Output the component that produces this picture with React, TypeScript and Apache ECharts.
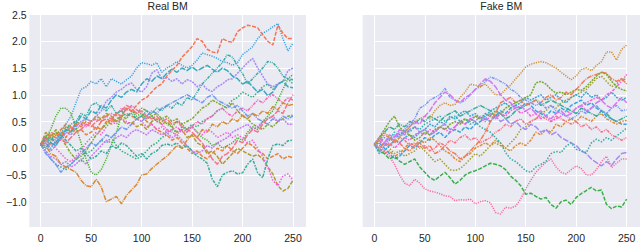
import React, { useEffect, useRef } from "react";
import * as echarts from "echarts";

const steps = [0,5,10,15,20,25,30,35,40,45,50,55,60,65,70,75,80,85,90,95,100,105,110,115,120,125,130,135,140,145,150,155,160,165,170,175,180,185,190,195,200,205,210,215,220,225,230,235,240,245,250];
const xTicks = [0, 50, 100, 150, 200, 250];
const yTicks = [-1.5, -1.0, -0.5, 0.0, 0.5, 1.0, 1.5, 2.0, 2.5];
const titles = ["Real BM", "Fake BM"];

// ---- Real BM paths (sampled every 5 steps) ----
const realOrangeRed = [0.07,0.15,0.25,0.2,0.3,0.2,0.35,0.45,0.4,0.5,
0.45,0.35,0.5,0.55,0.5,0.65,0.6,0.75,0.7,0.8,
0.9,0.95,1.05,1.15,1.2,1.35,1.45,1.55,1.7,1.8,
1.9,2.05,2.0,1.85,1.8,1.78,2.05,2.0,1.98,2.18,
2.25,2.3,2.28,2.25,2.12,2.0,1.93,2.3,2.15,2.05,
2.05];
const realBlue = [0.07,0.1,0.0,0.15,0.3,0.45,0.6,0.85,1.1,1.15,
1.25,1.2,1.3,1.15,1.3,1.25,1.2,1.28,1.35,1.5,
1.6,1.58,1.55,1.6,1.42,1.5,1.55,1.62,1.55,1.5,
1.55,1.65,1.78,1.75,1.72,1.68,1.62,1.6,1.55,1.6,
1.75,1.82,1.9,2.05,2.15,2.2,2.27,2.33,2.05,1.82,
1.97];
const realCyan = [0.07,0.2,0.1,0.05,0.2,0.35,0.3,0.45,0.6,0.55,
0.7,0.65,0.8,0.75,0.9,1.0,0.95,1.05,1.1,1.05,
1.2,1.3,1.25,1.35,1.3,1.4,1.48,1.42,1.5,1.45,
1.52,1.45,1.5,1.55,1.48,1.42,1.5,1.45,1.35,1.3,
1.2,1.25,1.15,1.05,1.1,0.98,1.05,1.2,1.25,1.15,
1.13];
const realTeal = [0.07,0.0,0.15,0.25,0.2,0.35,0.45,0.5,0.65,0.6,
0.8,0.85,0.75,0.7,0.8,0.65,0.7,0.6,0.65,0.55,
0.6,0.7,0.65,0.75,0.7,0.8,0.75,0.85,0.8,0.95,
0.9,1.05,1.2,1.3,1.4,1.5,1.6,1.75,1.7,1.55,
1.4,1.2,1.3,1.4,1.5,1.62,1.6,1.5,1.35,1.3,
1.28];
const realLavender = [0.07,0.1,-0.05,0.05,0.2,0.3,0.25,0.4,0.5,0.55,
0.5,0.6,0.7,0.88,0.95,1.05,1.1,1.18,1.22,1.1,
1.05,1.15,1.4,1.47,1.3,1.32,1.25,1.3,1.2,1.28,
1.25,1.15,1.2,1.1,1.06,1.15,1.2,1.28,1.3,1.4,
1.5,1.6,1.68,1.5,1.35,1.2,1.15,1.2,1.25,1.45,
1.5];
const realOrange = [0.07,0.05,-0.1,-0.15,-0.3,-0.35,-0.4,-0.45,-0.6,-0.7,
-0.72,-0.58,-0.72,-1.0,-0.95,-0.9,-1.04,-0.88,-0.78,-0.68,
-0.5,-0.48,-0.38,-0.3,-0.22,-0.15,-0.05,0.05,0.0,0.15,
0.25,0.2,0.35,0.3,0.45,0.4,0.5,0.45,0.55,0.5,
0.62,0.55,0.65,0.6,0.7,0.65,0.78,0.72,0.85,0.8,
0.82];
const realTealLow = [0.07,0.15,0.2,0.1,0.25,0.15,0.05,-0.05,0.0,-0.1,
-0.2,-0.15,-0.05,-0.1,0.05,0.0,0.1,0.05,-0.05,-0.15,
-0.1,-0.2,-0.1,-0.05,0.05,0.08,0.05,0.1,0.0,0.05,
-0.05,-0.15,-0.2,-0.28,-0.58,-0.72,-0.5,-0.45,-0.42,-0.48,
-0.46,-0.3,-0.2,-0.46,-0.55,-0.2,0.05,0.08,0.05,0.14,
0.15];
const realMagenta = [0.07,0.2,0.1,0.0,-0.1,-0.2,-0.25,-0.15,-0.05,0.1,
0.2,0.3,0.25,0.4,0.5,0.45,0.55,0.5,0.45,0.55,
0.5,0.4,0.45,0.35,0.4,0.3,0.35,0.4,0.3,0.35,
0.4,0.3,0.25,0.35,0.3,0.2,0.25,0.3,0.2,0.25,
0.2,0.1,0.15,0.0,-0.15,-0.35,-0.6,-0.7,-0.52,-0.48,
-0.6];
const realOlive = [0.07,0.3,0.2,0.35,0.25,0.4,0.3,0.5,0.45,0.55,
0.5,0.6,0.55,0.65,0.6,0.5,0.55,0.45,0.5,0.4,
0.45,0.35,0.5,0.55,0.45,0.5,0.4,0.3,0.35,0.2,
0.25,0.1,0.05,-0.1,-0.05,-0.15,-0.3,-0.2,-0.1,0.0,
-0.05,-0.1,-0.15,-0.12,-0.2,-0.35,-0.48,-0.7,-0.8,-0.75,
-0.6];
const realGreen = [0.07,0.2,0.35,0.6,0.75,0.75,0.65,0.4,0.1,-0.2,
-0.45,-0.5,-0.4,-0.2,0.05,0.3,0.6,0.75,0.7,0.6,
0.65,0.55,0.6,0.5,0.55,0.45,0.4,0.5,0.45,0.35,
0.4,0.3,0.2,0.15,0.05,0.1,0.0,0.05,0.1,0.2,
0.15,0.3,0.4,0.35,0.5,0.6,0.7,0.9,1.1,1.3,
1.38];
const realPink = [0.07,0.15,0.05,0.1,0.2,0.1,0.2,0.3,0.35,0.45,
0.4,0.5,0.55,0.6,0.55,0.65,0.7,0.8,0.75,0.65,
0.7,0.6,0.55,0.6,0.5,0.55,0.45,0.5,0.4,0.35,
0.3,0.2,0.1,-0.05,-0.2,-0.3,-0.15,-0.1,0.0,0.15,
0.1,0.25,0.35,0.3,0.45,0.55,0.6,0.7,0.65,0.85,
1.0];
const realHotPink = [0.07,0.0,0.1,0.2,0.15,0.3,0.4,0.35,0.45,0.4,
0.5,0.55,0.5,0.6,0.65,0.6,0.75,0.7,0.8,0.72,
0.65,0.55,0.6,0.5,0.45,0.35,0.3,0.25,0.35,0.3,
0.4,0.5,0.45,0.55,0.6,0.7,0.75,0.65,0.6,0.7,
0.75,0.7,0.8,0.9,0.85,0.95,1.0,0.92,0.85,0.95,
0.9];
const realViolet = [0.07,-0.05,-0.15,-0.2,-0.3,-0.25,-0.35,-0.3,-0.2,-0.3,
-0.15,-0.05,0.05,0.15,0.1,0.2,0.25,0.2,0.3,0.35,
0.3,0.25,0.35,0.3,0.25,0.3,0.2,0.25,0.15,0.05,
-0.05,-0.1,-0.05,0.05,0.0,0.1,0.15,0.2,0.3,0.35,
0.4,0.45,0.35,0.4,0.5,0.55,0.6,0.5,0.55,0.45,
0.45];
const realCornflower = [0.07,-0.1,-0.2,-0.3,-0.45,-0.35,-0.3,-0.2,-0.1,0.0,
0.1,0.05,0.15,0.25,0.2,0.3,0.4,0.35,0.45,0.55,
0.5,0.6,0.7,0.65,0.75,0.8,0.85,0.9,0.95,1.0,
0.95,0.9,0.85,0.95,1.0,0.9,0.85,0.8,0.75,0.8,
0.7,0.6,0.65,0.55,0.5,0.45,0.55,0.5,0.6,0.55,
0.6];
const realLime = [0.07,0.25,0.15,0.3,0.2,0.05,-0.1,-0.2,-0.15,-0.05,
0.1,0.25,0.35,0.45,0.55,0.5,0.6,0.55,0.7,0.65,
0.75,0.7,0.6,0.65,0.55,0.6,0.5,0.55,0.45,0.5,
0.55,0.65,0.75,0.8,0.9,0.85,0.8,0.75,0.85,0.7,
0.6,0.55,0.45,0.4,0.35,0.45,0.4,0.5,0.55,0.6,
0.62];
const realSeaGreen = [0.07,-0.05,-0.2,-0.3,-0.35,-0.4,-0.3,-0.2,-0.25,-0.1,
-0.05,0.05,0.15,0.1,0.2,0.05,-0.05,-0.1,-0.15,-0.2,
-0.15,-0.05,0.05,0.1,0.2,0.25,0.35,0.3,0.4,0.35,
0.45,0.4,0.5,0.55,0.6,0.7,0.75,0.8,0.9,0.95,
1.05,1.0,0.95,1.05,1.15,1.2,1.1,1.2,1.25,1.3,
1.2];
const realAmber = [0.07,0.2,0.3,0.25,0.35,0.45,0.4,0.3,0.35,0.25,
0.3,0.4,0.35,0.5,0.45,0.55,0.6,0.65,0.6,0.55,
0.6,0.5,0.45,0.35,0.3,0.25,0.15,0.2,0.1,0.0,
-0.1,-0.05,-0.15,-0.2,-0.1,0.0,-0.05,0.05,-0.05,-0.1,
0.0,0.1,0.05,-0.05,-0.1,-0.2,-0.15,-0.1,-0.2,-0.15,
-0.18];

// ---- Fake BM paths (sampled every 5 steps) ----
const fakeBrown = [0.07,0.15,0.3,0.2,0.1,0.2,0.3,0.4,0.5,0.55,
0.6,0.55,0.7,0.8,0.85,0.8,0.82,0.95,1.05,1.2,
1.18,1.15,1.2,1.1,1.0,1.0,1.1,1.18,1.3,1.4,
1.52,1.57,1.6,1.62,1.6,1.55,1.5,1.42,1.35,1.28,
1.35,1.47,1.5,1.45,1.55,1.62,1.8,1.8,1.65,1.85,
1.93];
const fakeViolet = [0.07,0.2,0.1,0.25,0.2,0.35,0.3,0.4,0.5,0.45,
0.6,0.7,0.85,0.95,1.05,1.0,0.9,0.85,0.95,1.0,
1.1,1.2,1.3,1.25,1.15,1.0,0.9,0.85,0.75,0.8,
0.7,0.75,0.65,0.7,0.6,0.55,0.65,0.7,0.6,0.65,
0.75,0.8,0.7,0.75,0.85,0.9,0.8,0.75,0.85,0.95,
0.85];
const fakeCornflower = [0.07,-0.05,0.05,0.15,0.25,0.2,0.35,0.45,0.55,0.75,
0.8,0.9,0.95,1.0,1.12,0.95,0.9,0.85,0.9,1.0,
1.1,1.15,1.25,1.33,1.3,1.25,1.2,1.1,1.05,0.95,
0.9,0.85,0.8,0.85,0.75,0.8,0.7,0.65,0.6,0.55,
0.6,0.7,0.65,0.75,0.8,0.7,0.65,0.75,0.8,0.7,
0.72];
const fakeLime = [0.07,0.2,0.35,0.5,0.6,0.4,0.3,0.25,0.15,0.2,
0.3,0.25,0.35,0.4,0.35,0.45,0.5,0.45,0.55,0.5,
0.6,0.55,0.65,0.6,0.7,0.65,0.75,0.8,0.85,0.9,
0.95,1.0,1.22,1.25,1.2,1.1,1.03,1.05,1.0,1.05,
1.1,1.08,1.15,1.25,1.35,1.42,1.38,1.25,1.15,1.1,
1.07];
const fakeOrangeRed = [0.07,0.0,0.1,0.05,0.15,0.1,0.0,-0.05,0.05,0.1,
0.0,0.05,-0.1,-0.05,0.05,-0.05,-0.1,-0.2,-0.15,-0.05,
0.05,0.15,0.3,0.5,0.65,0.85,0.9,0.95,0.85,0.9,
0.8,0.85,0.9,0.85,0.95,1.0,0.9,0.95,1.05,1.0,
1.1,1.2,1.3,1.35,1.38,1.42,1.4,1.3,1.25,1.3,
1.2];
const fakeMagenta = [0.07,0.15,0.05,0.1,0.0,0.1,0.2,0.15,0.25,0.3,
0.25,0.35,0.3,0.4,0.35,0.3,0.4,0.5,0.45,0.55,
0.6,0.55,0.5,0.6,0.55,0.65,0.6,0.7,0.75,0.65,
0.7,0.6,0.65,0.55,0.6,0.5,0.55,0.6,0.7,0.65,
0.75,0.8,0.85,0.9,0.95,0.9,1.0,1.05,1.15,1.25,
1.38];
const fakeTeal = [0.07,0.1,0.2,0.15,0.3,0.25,0.35,0.3,0.4,0.35,
0.45,0.5,0.55,0.6,0.5,0.55,0.6,0.5,0.55,0.45,
0.5,0.4,0.35,0.3,0.2,0.1,-0.08,-0.2,-0.25,-0.33,
-0.42,-0.45,-0.35,-0.3,-0.24,-0.1,-0.06,-0.08,0.04,0.1,
-0.02,-0.05,-0.08,0.1,0.17,0.12,0.2,0.15,0.23,0.3,
0.38];
const fakeGreen = [0.07,-0.05,-0.1,-0.2,-0.15,-0.24,-0.3,-0.25,-0.2,-0.35,
-0.45,-0.55,-0.6,-0.52,-0.45,-0.55,-0.67,-0.6,-0.5,-0.45,
-0.42,-0.38,-0.33,-0.28,-0.3,-0.33,-0.4,-0.52,-0.6,-0.7,
-0.86,-0.84,-0.9,-0.95,-0.92,-1.05,-1.12,-1.0,-0.97,-1.05,
-0.92,-0.85,-0.79,-0.73,-0.8,-0.78,-1.05,-1.13,-1.08,-1.1,
-0.95];
const fakePink = [0.07,0.05,-0.05,-0.15,-0.3,-0.5,-0.65,-0.7,-0.58,-0.65,
-0.76,-0.8,-0.82,-0.85,-0.89,-0.9,-0.98,-0.96,-0.97,-0.95,
-1.04,-1.0,-0.98,-1.02,-1.2,-1.23,-1.1,-1.12,-1.08,-0.95,
-0.76,-0.6,-0.45,-0.35,-0.26,-0.2,-0.35,-0.45,-0.48,-0.4,
-0.33,-0.38,-0.5,-0.5,-0.4,-0.25,-0.15,-0.36,-0.28,-0.2,
-0.2];
const fakeLavender = [0.07,0.0,0.1,0.2,0.15,0.3,0.25,0.35,0.4,0.3,
0.35,0.25,0.3,0.4,0.45,0.35,0.4,0.5,0.45,0.55,
0.5,0.6,0.55,0.65,0.6,0.5,0.55,0.45,0.5,0.4,
0.35,0.45,0.4,0.3,0.35,0.25,0.3,0.2,0.15,0.1,
0.05,-0.05,-0.1,-0.2,-0.27,-0.33,-0.25,-0.32,-0.2,-0.1,
-0.08];
const fakeSalmon = [0.07,0.15,0.25,0.2,0.1,0.2,0.15,0.05,0.1,0.0,
0.05,-0.05,0.0,0.1,0.05,0.15,0.1,0.2,0.25,0.15,
0.2,0.1,0.15,0.2,0.3,0.35,0.45,0.4,0.5,0.55,
0.45,0.5,0.55,0.6,0.55,0.5,0.6,0.55,0.5,0.45,
0.5,0.4,0.45,0.35,0.4,0.3,0.35,0.25,0.2,0.15,
0.2];
const fakeCyan = [0.07,-0.1,-0.05,0.05,0.15,0.1,0.2,0.25,0.2,0.3,
0.35,0.45,0.4,0.5,0.45,0.6,0.55,0.65,0.7,0.6,
0.65,0.55,0.6,0.7,0.75,0.8,0.85,0.75,0.8,0.85,
0.95,0.9,0.95,1.0,0.9,0.95,1.0,0.9,0.85,0.95,
1.0,0.95,1.05,0.95,1.0,0.9,0.95,1.05,0.95,0.9,
0.95];
const fakeSeaGreen = [0.07,0.2,0.3,0.4,0.35,0.45,0.4,0.5,0.45,0.55,
0.5,0.6,0.55,0.5,0.6,0.65,0.7,0.6,0.65,0.7,
0.75,0.8,0.75,0.7,0.6,0.65,0.55,0.6,0.7,0.75,
0.8,0.85,0.9,0.8,0.85,0.9,0.85,0.8,0.75,0.7,
0.65,0.75,0.7,0.65,0.6,0.7,0.65,0.55,0.5,0.55,
0.6];
const fakeAmber = [0.07,0.0,-0.1,-0.05,-0.15,-0.1,0.0,0.1,0.05,0.15,
0.1,0.2,0.15,0.05,-0.05,-0.1,-0.2,-0.25,-0.15,-0.1,
0.0,0.05,0.1,0.05,0.15,0.1,0.0,-0.05,0.05,0.1,
0.05,0.15,0.3,0.25,0.35,0.3,0.45,0.4,0.5,0.55,
0.5,0.6,0.55,0.5,0.6,0.65,0.55,0.5,0.45,0.5,
0.52];
const fakeOlive = [0.07,0.2,0.1,0.0,-0.1,-0.05,-0.15,-0.1,-0.05,0.05,
-0.05,-0.15,-0.25,-0.2,-0.3,-0.4,-0.42,-0.38,-0.3,-0.2,
-0.1,-0.15,-0.05,0.05,0.1,0.05,0.0,0.1,0.2,0.35,
0.4,0.5,0.55,0.65,0.7,0.8,0.75,0.85,0.9,0.95,
1.0,1.05,1.1,1.2,1.3,1.35,1.25,1.15,1.2,1.3,
1.28];
const fakeBlue = [0.07,0.1,0.0,-0.1,-0.2,-0.15,-0.05,0.05,0.0,0.1,
0.2,0.15,0.25,0.3,0.2,0.3,0.35,0.3,0.4,0.35,
0.45,0.5,0.55,0.5,0.6,0.7,0.65,0.75,0.8,0.75,
0.85,0.8,0.7,0.65,0.6,0.7,0.65,0.75,0.7,0.8,
0.85,0.9,0.8,0.85,0.75,0.7,0.6,0.55,0.5,0.45,
0.45];

const realPaths = [realAmber, realSeaGreen, realLime, realCornflower, realViolet, realHotPink, realPink,
  realGreen, realOlive, realMagenta, realTealLow, realOrange, realLavender, realTeal, realCyan, realBlue, realOrangeRed];
const realColors = ["#e8823a", "#33b07e", "#86a731", "#6f9af4", "#c47ef4", "#f565b8", "#f77189",
  "#4cb034", "#b09a31", "#f45fd5", "#35ad9a", "#d98a32", "#a48cf4", "#36ada4", "#38aabf", "#3ba3e0", "#f37651"];

const fakePaths = [fakeBlue, fakeOlive, fakeAmber, fakeSeaGreen, fakeCyan, fakeSalmon, fakeLavender, fakePink,
  fakeGreen, fakeTeal, fakeMagenta, fakeOrangeRed, fakeLime, fakeCornflower, fakeViolet, fakeBrown];
const fakeColors = ["#3aa3e2", "#a39e31", "#e08a35", "#35ae97", "#39a7d0", "#f77189", "#a48cf4", "#f66ca3",
  "#3ab04a", "#36ada4", "#f561dd", "#f47a57", "#7aa831", "#7a96f4", "#d477f3", "#ce9032"];

const dashPatterns = [[4, 1.5], [1.5, 1.5], [3, 1.2, 1.5, 1.2], [5, 1, 1, 1], [2, 1], [3, 1, 1, 1, 1, 1], [6, 1.5], [1.2, 1.2]];

const FONT = "Liberation Sans";
const TEXT = "#262626";
const BG = "#eaeaf2";

function buildSeries(paths: number[][], colors: string[], idx: number) {
  return paths.map((vals, i) => ({
    type: "line",
    xAxisIndex: idx,
    yAxisIndex: idx,
    data: vals.map((v, j) => [steps[j], v]),
    showSymbol: false,
    symbol: "none",
    silent: true,
    clip: false,
    z: 3,
    lineStyle: { color: colors[i], width: 1.5, type: dashPatterns[i % dashPatterns.length] },
    itemStyle: { color: colors[i] },
  }));
}

function xAxisDef(idx: number) {
  return {
    gridIndex: idx,
    type: "value",
    min: xTicks[0],
    max: xTicks[xTicks.length - 1],
    interval: 50,
    axisLine: { show: false },
    axisTick: { show: false },
    splitLine: { show: true, lineStyle: { color: "#ffffff", width: 1 } },
    axisLabel: { show: true, fontFamily: FONT, fontSize: 10.5, color: TEXT, margin: 9, verticalAlign: "middle" },
  };
}

function yAxisDef(idx: number, showLabels: boolean) {
  return {
    gridIndex: idx,
    type: "value",
    min: yTicks[0],
    max: yTicks[yTicks.length - 1],
    interval: 0.5,
    axisLine: { show: false },
    axisTick: { show: false },
    splitLine: { show: true, lineStyle: { color: "#ffffff", width: 1 } },
    axisLabel: {
      show: showLabels,
      showMinLabel: true,
      showMaxLabel: true,
      fontFamily: FONT,
      fontSize: 10.5,
      color: TEXT,
      margin: 14,
      formatter: (v: number) => (Math.abs(v - yTicks[0]) < 1e-9 ? "" : (v < 0 ? "\u2212" + Math.abs(v).toFixed(1) : v.toFixed(1))),
    },
  };
}

export default function App() {
  const ref = useRef<HTMLDivElement>(null);
  useEffect(() => {
    if (!ref.current) return;
    const chart = echarts.init(ref.current, null, { renderer: "svg" });
    const option: any = {
      animation: false,
      backgroundColor: "#ffffff",
      grid: [
        { left: 40.7, top: 14.5, width: 252.3, height: 215.2 },
        { left: 374.3, top: 14.5, width: 252.4, height: 215.2 },
      ],
      xAxis: [xAxisDef(0), xAxisDef(1)],
      yAxis: [yAxisDef(0, true), yAxisDef(1, false)],
      graphic: [
        { type: "rect", z: -10, silent: true, shape: { x: 29.3, y: 15, width: 276.7, height: 212 }, style: { fill: BG } },
        { type: "rect", z: -10, silent: true, shape: { x: 362.7, y: 15, width: 277.3, height: 212 }, style: { fill: BG } },
        { type: "text", z: 10, x: 167.7, y: 6, style: { text: titles[0], align: "center", verticalAlign: "middle", font: `10.5px "${FONT}"`, fill: TEXT } },
        { type: "text", z: 10, x: 501.3, y: 6, style: { text: titles[1], align: "center", verticalAlign: "middle", font: `10.5px "${FONT}"`, fill: TEXT } },
      ],
      series: [...buildSeries(realPaths, realColors, 0), ...buildSeries(fakePaths, fakeColors, 1)],
    };
    chart.setOption(option);
    return () => chart.dispose();
  }, []);
  return <div ref={ref} style={{ position: "fixed", left: 0, top: 0, width: 640, height: 243 }} />;
}
